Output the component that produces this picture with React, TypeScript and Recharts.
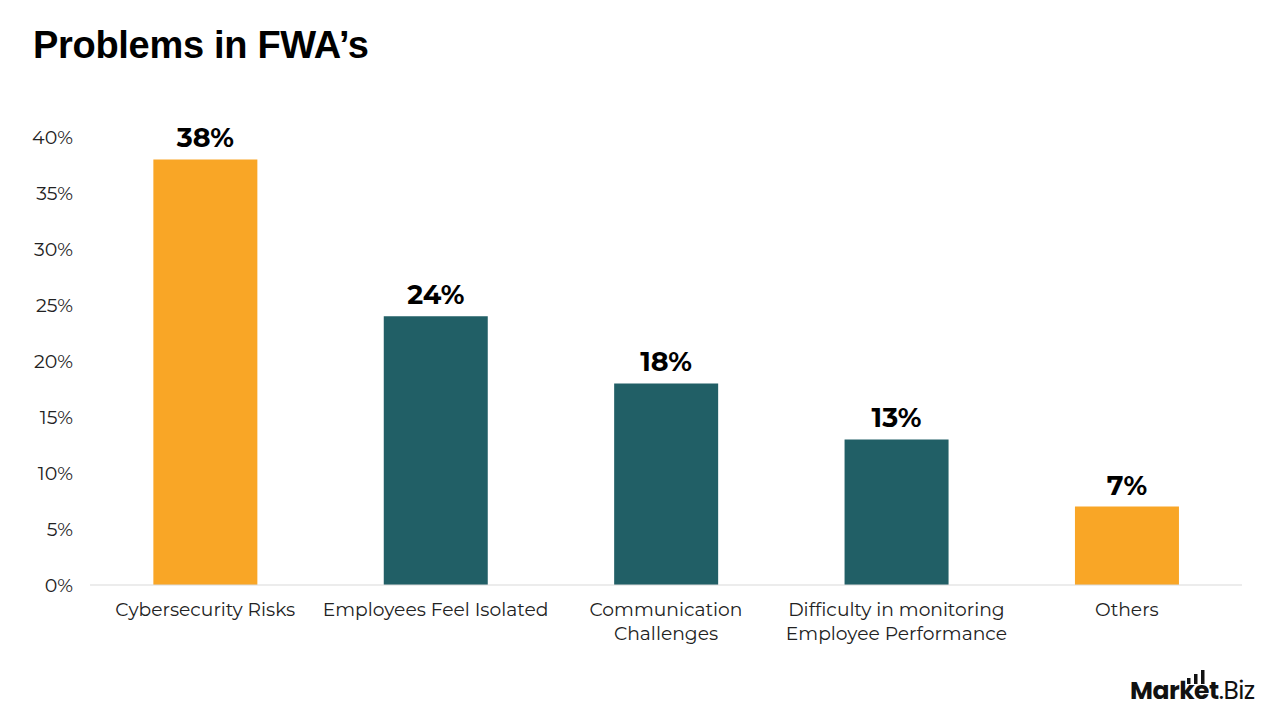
import React from "react";
import { BarChart, Bar, XAxis, YAxis, Cell, LabelList } from "recharts";

const categories: string[][] = [
  ["Cybersecurity Risks"],
  ["Employees Feel Isolated"],
  ["Communication", "Challenges"],
  ["Difficulty in monitoring", "Employee Performance"],
  ["Others"],
];
const values: number[] = [38, 24, 18, 13, 7];
const barColors: string[] = ["#F9A626", "#215F66", "#215F66", "#215F66", "#F9A626"];
const yTicks: number[] = [0, 5, 10, 15, 20, 25, 30, 35, 40];

const data = categories.map((c, i) => ({ name: c.join("\n"), value: values[i] }));

const FONT = "Montserrat, 'Open Sans', 'DejaVu Sans', sans-serif";

const XTick = (props: any) => {
  const { x, y, payload } = props;
  const lines = String(payload.value).split("\n");
  return (
    <g transform={`translate(${x},${y})`}>
      {lines.map((l: string, i: number) => (
        <text
          key={i}
          x={0}
          y={i * 24}
          dy={17}
          textAnchor="middle"
          fill="#222"
          fontSize={18.7}
          fontFamily={FONT}
        >
          {l}
        </text>
      ))}
    </g>
  );
};

export default function App() {
  return (
    <div style={{ position: "absolute", left: 0, top: 0, width: 1280, height: 720, background: "#fff" }}>
      <div
        style={{
          position: "absolute",
          left: 33,
          top: 23,
          fontFamily: "'Liberation Sans', Arial, sans-serif",
          fontWeight: "bold",
          fontSize: 38,
          color: "#000",
          letterSpacing: -0.3,
          lineHeight: "44px",
        }}
      >
        Problems in FWA’s
      </div>
      <BarChart
        width={1280}
        height={720}
        data={data}
        margin={{ top: 137, right: 38, bottom: 105, left: 0 }}
        barCategoryGap="27.5%"
      >
        <XAxis
          dataKey="name"
          interval={0}
          tickLine={false}
          axisLine={{ stroke: "#d9d9d9" }}
          tick={<XTick />}
          tickMargin={8}
        />
        <YAxis
          width={90}
          domain={[0, 40]}
          ticks={yTicks}
          tickFormatter={(v: number) => `${v}%`}
          axisLine={false}
          tickLine={false}
          tickMargin={11}
          tick={{ fill: "#222", fontSize: 19, fontFamily: FONT }}
        />
        <Bar dataKey="value" isAnimationActive={false}>
          {data.map((_, i) => (
            <Cell key={i} fill={barColors[i]} />
          ))}
          <LabelList
            dataKey="value"
            position="top"
            offset={12}
            formatter={(v: any) => `${v}%`}
            style={{ fill: "#000", fontSize: 27, fontWeight: "bold", fontFamily: FONT }}
          />
        </Bar>
      </BarChart>
      <div
        style={{
          position: "absolute",
          left: 1130,
          top: 676,
          fontFamily: "'Poppins', 'DejaVu Sans', sans-serif",
          fontSize: 25,
          lineHeight: "30px",
          color: "#111",
          letterSpacing: -0.5,
        }}
      >
        <span style={{ fontWeight: "bold" }}>Market</span>
        <span>.Biz</span>
      </div>
      <svg
        style={{ position: "absolute", left: 1180, top: 664 }}
        width={40}
        height={24}
      >
        <rect x={7} y={14} width={3.5} height={6} fill="#111" />
        <rect x={14} y={10} width={3.5} height={10} fill="#111" />
        <rect x={21} y={6} width={3.5} height={14} fill="#111" />
      </svg>
    </div>
  );
}
